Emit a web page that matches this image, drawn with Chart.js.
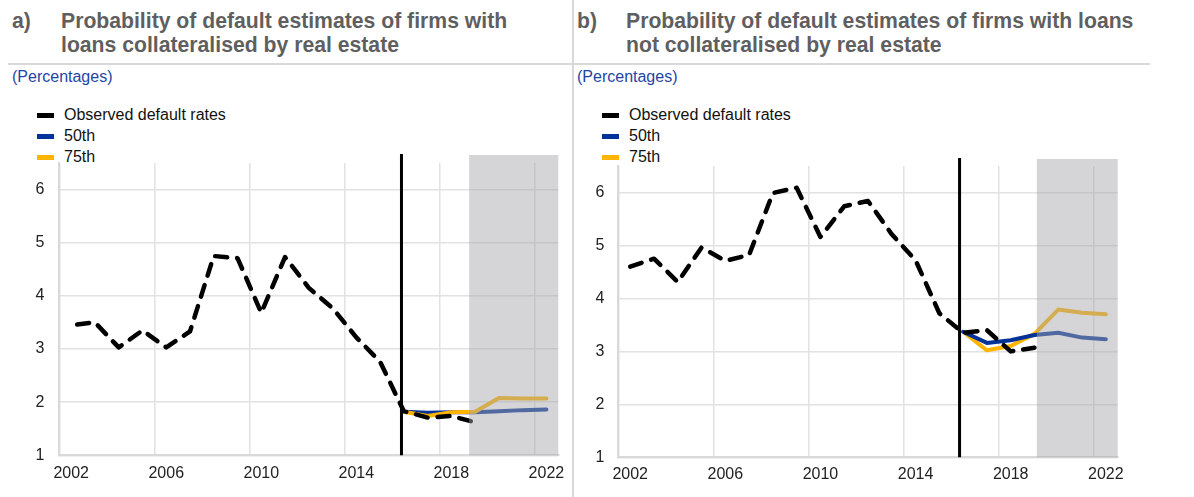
<!DOCTYPE html>
<html>
<head>
<meta charset="utf-8">
<script src="https://cdn.jsdelivr.net/npm/chart.js@4/dist/chart.umd.min.js"></script>
<style>
  html, body { margin: 0; padding: 0; background: #fff; }
  #page { position: relative; width: 1194px; height: 497px; overflow: hidden; font-family: "Liberation Sans", Arial, sans-serif; }
  .panelLabel, .title { position: absolute; top: 9px; font-weight: bold; font-size: 21.2px; line-height: 24.3px; color: #5f5f5f; white-space: nowrap; }
  .unit { position: absolute; top: 67px; font-size: 16px; line-height: 19px; color: #1f45a6; white-space: nowrap; }
  .hsep { position: absolute; left: 8px; top: 63px; width: 1142px; height: 2px; background: #d9d9d9; }
  .vsep { position: absolute; left: 572px; top: 0; width: 2px; height: 497px; background: #d9d9d9; }
  .legend { position: absolute; top: 104.5px; }
  .legend .row { display: flex; align-items: center; height: 21px; font-size: 16px; color: #111; white-space: nowrap; }
  .legend .box { width: 17px; height: 5px; margin-right: 10px; }
  canvas { position: absolute; top: 150px; }
</style>
</head>
<body>
<div id="page">
  <div class="panelLabel" style="left:12px">a)</div>
  <div class="title" style="left:61px">Probability of default estimates of firms with<br>loans collateralised by real estate</div>
  <div class="panelLabel" style="left:577px">b)</div>
  <div class="title" style="left:626px">Probability of default estimates of firms with loans<br>not collateralised by real estate</div>
  <div class="hsep"></div>
  <div class="vsep"></div>
  <div class="unit" style="left:12px">(Percentages)</div>
  <div class="unit" style="left:577px">(Percentages)</div>
  <div class="legend" id="legendA" style="left:37px"></div>
  <div class="legend" id="legendB" style="left:602px"></div>
  <canvas id="chartA" width="570" height="347" style="left:0px;width:570px;height:347px"></canvas>
  <canvas id="chartB" width="621" height="347" style="left:573px;width:621px;height:347px"></canvas>
</div>
<script>
// ---------- data ----------
const years = [2002,2003,2004,2005,2006,2007,2008,2009,2010,2011,2012,2013,2014,2015,2016,2017,2018,2019,2020,2021,2022];
const xTickYears = [2002,2006,2010,2014,2018,2022];
const seriesLabels = ['Observed default rates','50th','75th'];

// panel a) loans collateralised by real estate
const observedA = [3.45,3.50,3.03,3.35,3.03,3.33,4.75,4.71,3.68,4.73,4.15,3.77,3.22,2.76,1.83,1.71,1.74,1.62,null,null,null];
const p50A      = [null,null,null,null,null,null,null,null,null,null,null,null,null,null,1.82,1.80,1.81,1.81,1.83,1.85,1.86];
const p75A      = [null,null,null,null,null,null,null,null,null,null,null,null,null,null,1.82,1.74,1.81,1.82,2.08,2.07,2.07];
const markerYearA = 2015.9;
const forecastStartA = 2018.75;

// panel b) loans not collateralised by real estate
const observedB = [4.60,4.75,4.31,4.96,4.71,4.82,5.99,6.09,5.16,5.74,5.84,5.21,4.72,3.72,3.35,3.40,3.00,3.07,null,null,null];
const p50B      = [null,null,null,null,null,null,null,null,null,null,null,null,null,null,3.37,3.16,3.21,3.31,3.35,3.26,3.23];
const p75B      = [null,null,null,null,null,null,null,null,null,null,null,null,null,null,3.37,3.02,3.10,3.33,3.79,3.73,3.70];
const markerYearB = 2015.85;
const forecastStartB = 2019.1;

const yMin = 1, yMax = 6.5, yStep = 1;

// ---------- styles ----------
const COL_OBS = '#000000', COL_P50 = '#003299', COL_P75 = '#ffb400';
const GRID = '#e2e2e2', AXIS = '#d9d9d9';
const FONT = { family: '"Liberation Sans", Arial, sans-serif', size: 16 };

function buildLegend(id) {
  const el = document.getElementById(id);
  const cols = [COL_OBS, COL_P50, COL_P75];
  seriesLabels.forEach((t, i) => {
    const row = document.createElement('div'); row.className = 'row';
    const b = document.createElement('div'); b.className = 'box'; b.style.background = cols[i];
    const s = document.createElement('span'); s.textContent = t;
    row.appendChild(b); row.appendChild(s); el.appendChild(row);
  });
}
buildLegend('legendA'); buildLegend('legendB');

function annotPlugin(markerYear, forecastStart, overhang) {
  return {
    id: 'annot',
    afterDatasetsDraw(chart) {
      const { ctx, chartArea, scales } = chart;
      const x = scales.x;
      const xs = x.getPixelForValue(forecastStart - years[0]);
      ctx.save();
      ctx.fillStyle = 'rgba(167,166,170,0.48)';
      ctx.fillRect(xs, chartArea.top - overhang, chartArea.right - xs, chartArea.bottom - chartArea.top + overhang);
      const xm = x.getPixelForValue(markerYear - years[0]);
      ctx.strokeStyle = '#000';
      ctx.lineWidth = 3;
      ctx.beginPath();
      ctx.moveTo(xm, chartArea.top - overhang - 1);
      ctx.lineTo(xm, chartArea.bottom);
      ctx.stroke();
      ctx.restore();
    }
  };
}

function makeChart(id, obs, p50, p75, opts) {
  const isTickYear = (i) => xTickYears.includes(years[i]);
  return new Chart(document.getElementById(id), {
    type: 'line',
    data: {
      labels: years.map(String),
      datasets: [
        { label: seriesLabels[0], data: obs, borderColor: COL_OBS, borderWidth: 4.5, borderDash: [12, 10],
          borderDashOffset: opts.dashOffset,
          borderCapStyle: 'round', borderJoinStyle: 'round', pointRadius: 0, tension: 0, order: 0 },
        { label: seriesLabels[1], data: p50, borderColor: COL_P50, borderWidth: 4,
          borderCapStyle: 'round', borderJoinStyle: 'round', pointRadius: 0, tension: 0, order: opts.p50Order },
        { label: seriesLabels[2], data: p75, borderColor: COL_P75, borderWidth: 4,
          borderCapStyle: 'round', borderJoinStyle: 'round', pointRadius: 0, tension: 0, order: opts.p75Order }
      ]
    },
    options: {
      responsive: false, animation: false, devicePixelRatio: 1,
      layout: { padding: { top: opts.padTop, right: opts.padRight, left: 0, bottom: 0 } },
      plugins: { legend: { display: false }, tooltip: { enabled: false } },
      events: [],
      scales: {
        x: {
          type: 'category', offset: true,
          grid: { offset: true, drawTicks: false, lineWidth: 1.5,
                  color: (c) => (c.type === 'tick' && isTickYear(c.index)) ? GRID : 'rgba(0,0,0,0)' },
          border: { display: true, color: AXIS, width: 2 },
          ticks: { autoSkip: false, maxRotation: 0, padding: opts.xPad, color: '#222', font: FONT,
                   callback: (v, i) => isTickYear(i) ? String(years[i]) : '' },
          afterFit: (s) => { s.height = opts.xHeight; s.paddingLeft = 0; s.paddingRight = 0; }
        },
        y: {
          min: yMin, max: yMax,
          grid: { drawTicks: false, color: GRID, lineWidth: 1.5 },
          border: { display: true, color: AXIS, width: 2 },
          ticks: { stepSize: yStep, includeBounds: false, padding: opts.yPad, color: '#222', font: FONT },
          afterFit: (s) => { s.width = opts.yWidth; s.paddingTop = 0; s.paddingBottom = 0; }
        }
      }
    },
    plugins: [annotPlugin(opts.markerYear, opts.forecastStart, opts.overhang)]
  });
}

makeChart('chartA', observedA, p50A, p75A, {
  padTop: 13, padRight: 11.7, xHeight: 41.7, yWidth: 59.3, xPad: 9, yPad: 15, dashOffset: 16,
  markerYear: markerYearA, forecastStart: forecastStartA, overhang: 8, p50Order: 2, p75Order: 1
});
makeChart('chartB', observedB, p50B, p75B, {
  padTop: 16, padRight: 76.3, xHeight: 39.7, yWidth: 45.3, xPad: 8, yPad: 14, dashOffset: 0,
  markerYear: markerYearB, forecastStart: forecastStartB, overhang: 7, p50Order: 1, p75Order: 2
});
</script>
</body>
</html>
